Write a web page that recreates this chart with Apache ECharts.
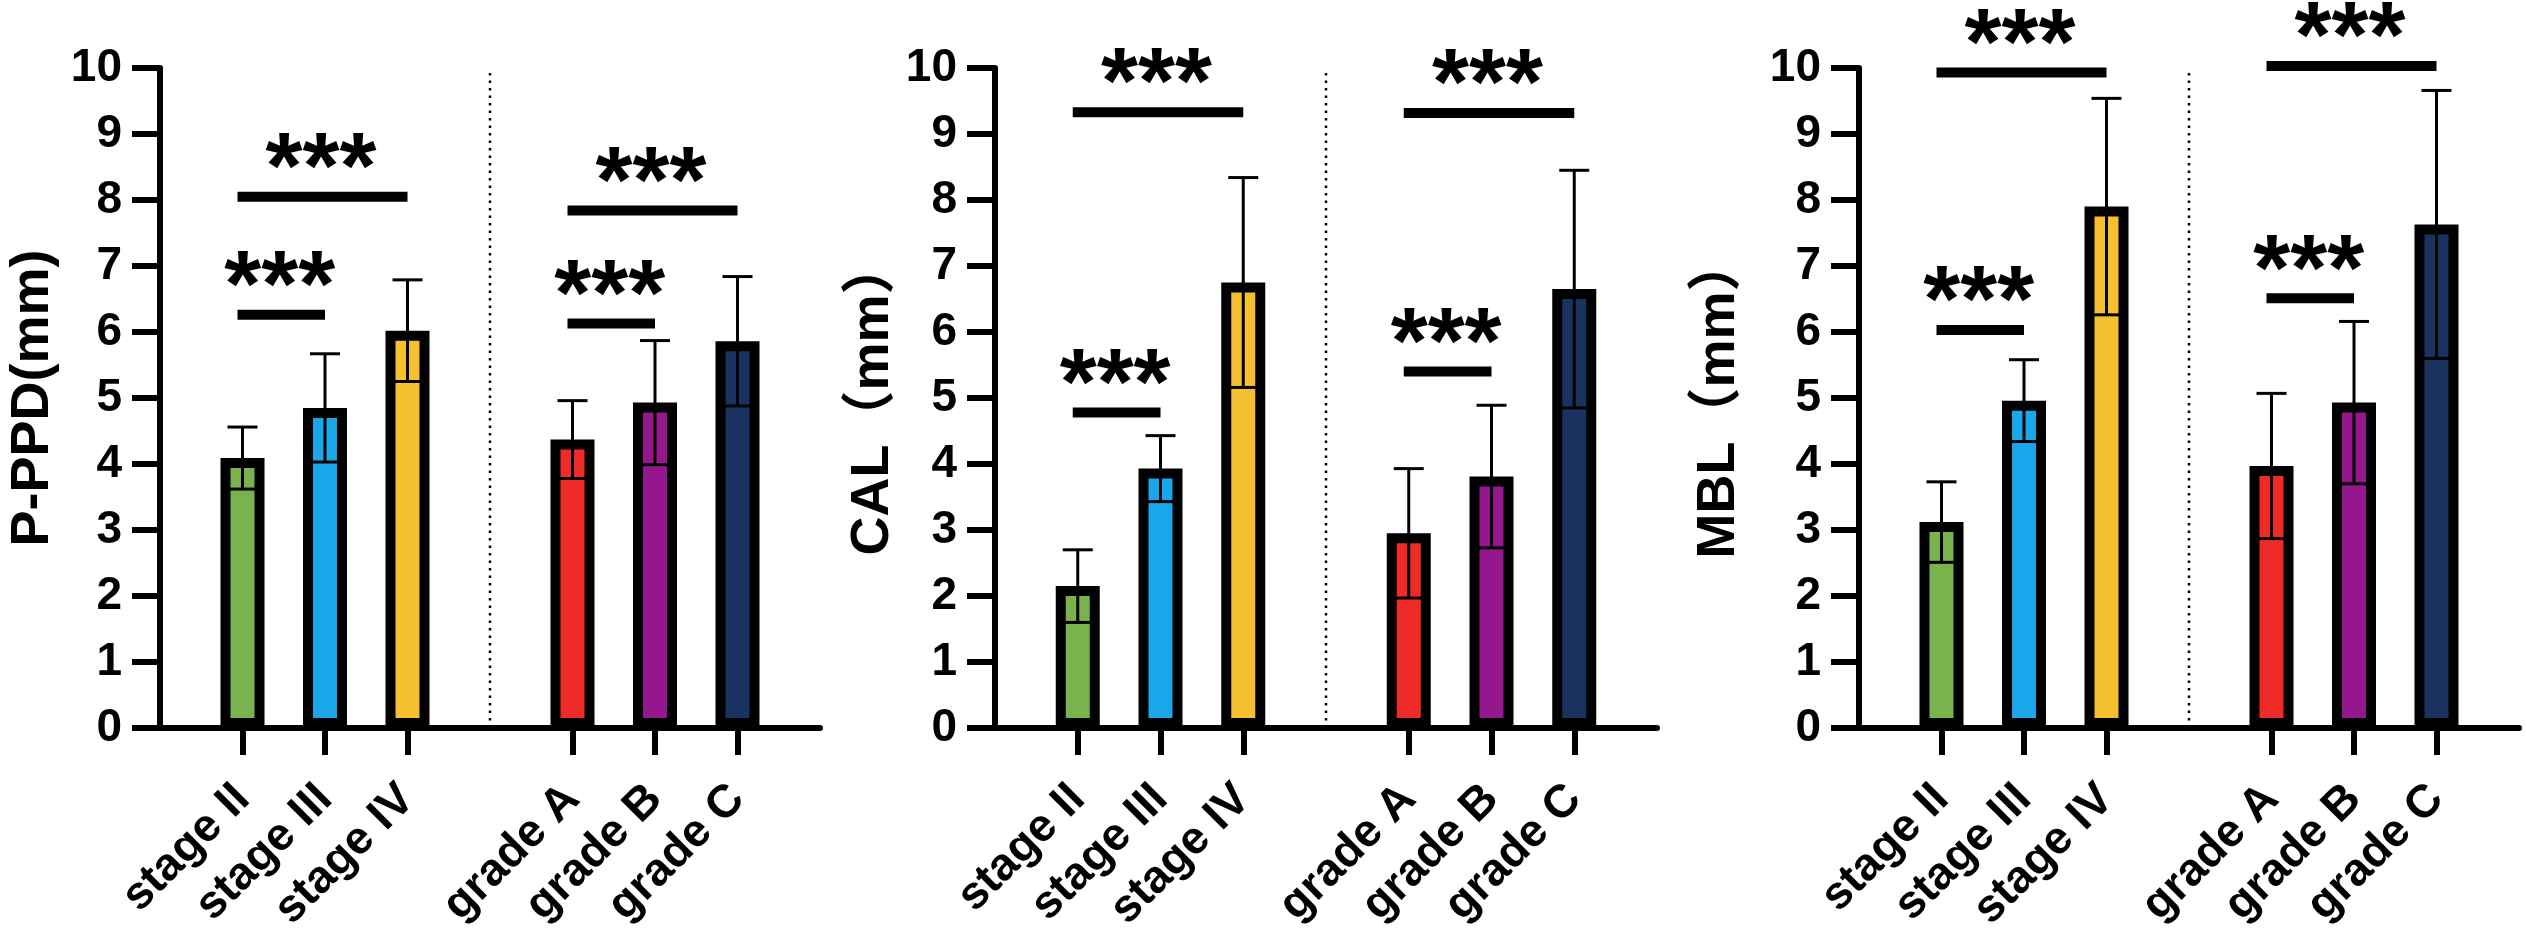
<!DOCTYPE html>
<html>
<head>
<meta charset="utf-8">
<script src="https://cdn.jsdelivr.net/npm/echarts@6/dist/echarts.min.js"></script>
<style>
html, body { margin: 0; padding: 0; background: #fff; }
#main { width: 2526px; height: 941px; }
</style>
</head>
<body>
<div id="main"></div>
<script>
// categories (blank slots give the gaps at both ends and between groups)
var categories = ['', 'stage II', 'stage III', 'stage IV', ' ', 'grade A', 'grade B', 'grade C', '  '];
var barColors = [null, '#7AB34D', '#19A7EA', '#F4C030', null, '#EE2B27', '#94178E', '#1A3260', null];
var separatorIndex = 4;

// mean and SD per group
var ppdMean = [null, 4.09, 4.85, 6.02, null, 4.37, 4.93, 5.86, null];
var ppdSd   = [null, 0.47, 0.82, 0.77, null, 0.59, 0.94, 0.98, null];
var calMean = [null, 2.15, 3.93, 6.75, null, 2.95, 3.81, 6.65, null];
var calSd   = [null, 0.55, 0.50, 1.59, null, 0.98, 1.08, 1.80, null];
var mblMean = [null, 3.12, 4.96, 7.90, null, 3.97, 4.93, 7.63, null];
var mblSd   = [null, 0.61, 0.62, 1.64, null, 1.10, 1.23, 2.03, null];

// significance brackets: pairs of category indexes and bar heights
var sigPairs = [[1, 2], [1, 3], [5, 6], [5, 7]];
var ppdSig = [6.26, 8.05, 6.13, 7.84];
var calSig = [4.78, 9.33, 5.40, 9.32];
var mblSig = [6.03, 9.93, 6.51, 10.03];
var sigText = '***';

var yMin = 0, yMax = 10, yStep = 1;

var FONT = '"Liberation Sans", Arial, "Noto Sans CJK SC", sans-serif';

var panels = [
    { name: 'P-PPD(mm)', mean: ppdMean, sd: ppdSd, sig: ppdSig, left: 160, width: 660, nameGap: 100 },
    { name: 'CAL（mm）', mean: calMean, sd: calSd, sig: calSig, left: 995, width: 662, nameGap: 95 },
    { name: 'MBL（mm）', mean: mblMean, sd: mblSd, sig: mblSig, left: 1859, width: 660, nameGap: 113 }
];

function isRealCat(index, value) {
    return String(value).trim() !== '';
}

var grid = [], xAxis = [], yAxis = [], series = [];

panels.forEach(function (p, i) {
    grid.push({ left: p.left, top: 68, width: p.width, height: 660, outerBoundsMode: 'none', containLabel: false });

    xAxis.push({
        type: 'category',
        gridIndex: i,
        data: categories,
        boundaryGap: false,
        z: 3,
        axisLine: { lineStyle: { color: '#000', width: 6 } },
        axisTick: { show: true, length: 27, interval: isRealCat, lineStyle: { color: '#000', width: 6 } },
        axisLabel: {
            interval: isRealCat, rotate: 45, margin: 64,
            color: '#000', fontSize: 46, fontWeight: 'bold', fontFamily: FONT
        },
        splitLine: { show: false }
    });

    yAxis.push({
        type: 'value',
        gridIndex: i,
        min: yMin, max: yMax, interval: yStep,
        name: p.name,
        nameLocation: 'middle',
        nameGap: p.nameGap,
        nameTextStyle: { color: '#000', fontSize: 54, fontWeight: 'bold', fontFamily: FONT },
        z: 3,
        axisLine: { show: true, lineStyle: { color: '#000', width: 6 } },
        axisTick: { show: true, length: 28, lineStyle: { color: '#000', width: 6 } },
        axisLabel: { margin: 38, color: '#000', fontSize: 46, fontWeight: 'bold', fontFamily: FONT },
        splitLine: { show: false }
    });

    // bars
    var barData = p.mean.map(function (v, k) {
        if (v === null) return '-';
        return { value: v, itemStyle: { color: barColors[k] } };
    });
    series.push({
        type: 'bar',
        xAxisIndex: i, yAxisIndex: i,
        data: barData,
        barWidth: 44,
        itemStyle: { borderColor: '#000', borderWidth: 10 },
        silent: true
    });

    // error bars (mean ± SD)
    var errData = [];
    p.mean.forEach(function (v, k) {
        if (v !== null) errData.push([k, v, p.sd[k]]);
    });
    series.push({
        type: 'custom',
        xAxisIndex: i, yAxisIndex: i,
        data: errData,
        silent: true,
        z: 4,
        renderItem: function (params, api) {
            var x = api.value(0), m = api.value(1), s = api.value(2);
            var top = api.coord([x, m + s]);
            var bot = api.coord([x, m - s]);
            var half = 15;
            var style = { stroke: '#000', lineWidth: 3 };
            return {
                type: 'group',
                children: [
                    { type: 'line', shape: { x1: top[0], y1: top[1], x2: bot[0], y2: bot[1] }, style: style },
                    { type: 'line', shape: { x1: top[0] - half, y1: top[1], x2: top[0] + half, y2: top[1] }, style: style },
                    { type: 'line', shape: { x1: bot[0] - half, y1: bot[1], x2: bot[0] + half, y2: bot[1] }, style: style }
                ]
            };
        }
    });

    // significance bars with stars
    var sigData = sigPairs.map(function (pair, k) {
        return [pair[0], pair[1], p.sig[k]];
    });
    series.push({
        type: 'custom',
        xAxisIndex: i, yAxisIndex: i,
        data: sigData,
        encode: { x: [0, 1], y: 2 },
        silent: true,
        z: 5,
        renderItem: function (params, api) {
            var a = api.coord([api.value(0), api.value(2)]);
            var b = api.coord([api.value(1), api.value(2)]);
            return {
                type: 'group',
                children: [
                    { type: 'line', shape: { x1: a[0] - 5, y1: a[1], x2: b[0], y2: b[1] },
                      style: { stroke: '#000', lineWidth: 10 } },
                    { type: 'text', x: (a[0] + b[0]) / 2 - 4, y: a[1] - 25,
                      style: { text: sigText, fill: '#000', fontSize: 95, fontWeight: 'bold',
                               fontFamily: FONT, align: 'center', verticalAlign: 'middle' } }
                ]
            };
        }
    });

    // dotted separator between stage and grade groups
    series.push({
        type: 'custom',
        xAxisIndex: i, yAxisIndex: i,
        data: [[separatorIndex]],
        silent: true,
        z: 1,
        renderItem: function (params, api) {
            var a = api.coord([api.value(0), yMin]);
            var b = api.coord([api.value(0), yMax]);
            return {
                type: 'line',
                shape: { x1: a[0], y1: a[1], x2: b[0], y2: b[1] },
                style: { stroke: '#000', lineWidth: 2.5, lineDash: [2.5, 5] }
            };
        }
    });
});

var myChart = echarts.init(document.getElementById('main'));
myChart.setOption({
    animation: false,
    backgroundColor: '#fff',
    grid: grid,
    xAxis: xAxis,
    yAxis: yAxis,
    series: series
});
</script>
</body>
</html>
